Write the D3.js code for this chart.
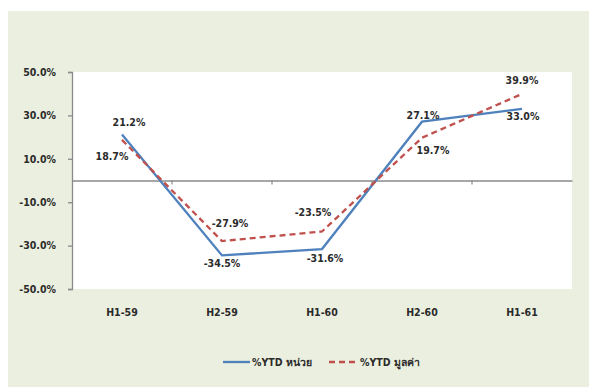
<!DOCTYPE html>
<html><head><meta charset="utf-8">
<script src="https://cdn.jsdelivr.net/npm/d3@7"></script>
<style>
html,body{margin:0;padding:0;background:#fff;}
svg{display:block;}
text{font-family:"DejaVu Sans",Verdana,sans-serif;}
</style></head>
<body>
<svg id="c" width="589" height="387"></svg>
<script>
const categories = ["H1-59","H2-59","H1-60","H2-60","H1-61"];
const unitsYTD = [21.2, -34.5, -31.6, 27.1, 33.0];   // %YTD หน่วย
const valueYTD = [18.7, -27.9, -23.5, 19.7, 39.9];   // %YTD มูลค่า
const yTicks = [50, 30, 10, -10, -30, -50];
const seriesNames = ["%YTD หน่วย", "%YTD มูลค่า"];

// label offsets (styling only)
const unitsLabelOff = [[7,-12],[0,8],[3,9],[1,-6],[1,7]];
const valueLabelOff = [[-10,16],[8,-18],[-9,-19],[11,13],[0,-14]];

const fmt = d3.formatLocale({decimal:".", thousands:",", grouping:[3], currency:["",""], minus:"-"}).format(".1f");
const pct = d => fmt(d) + "%";
const FONT = "'DejaVu Sans Condensed','DejaVu Sans',sans-serif";

const svg = d3.select("#c");
const W = 589, H = 387;
svg.append("rect").attr("x",0).attr("y",0).attr("width",W).attr("height",H).attr("fill","#ffffff");
svg.append("rect").attr("x",8).attr("y",11).attr("width",W-8).attr("height",H-11).attr("fill","#EBEFDF");

const L = 72, R = 572, T = 72, B = 289;
svg.append("rect").attr("x",L).attr("y",T).attr("width",R-L).attr("height",B-T).attr("fill","#ffffff");

const x = d3.scaleBand().domain(categories).range([L,R]);
const y = d3.scaleLinear().domain([-50,50]).range([B,T]);
const cx = c => x(c) + x.bandwidth()/2;

// y axis
const yAxis = d3.axisLeft(y).tickValues(yTicks).tickSize(4).tickPadding(10).tickFormat(pct);
const gy = svg.append("g").attr("transform",`translate(${L},0)`).call(yAxis);
gy.select(".domain").attr("stroke","#8a8a8a").attr("stroke-width",1.3);
gy.selectAll(".tick line").attr("stroke","#8a8a8a").attr("stroke-width",1.3);
gy.selectAll(".tick text").attr("fill","#2b2b2b").attr("font-size","10.5px").attr("font-weight","bold")
  .attr("dx","-2").style("font-family",FONT);

// zero axis with ticks at band boundaries
const xAxis = d3.axisBottom(x).tickSize(0).tickFormat("");
const gx = svg.append("g").attr("transform",`translate(0,${y(0)})`).call(xAxis);
gx.select(".domain").attr("stroke","#8a8a8a").attr("stroke-width",1.3);
svg.append("g").selectAll("line").data(categories.slice(1)).join("line")
  .attr("x1",d=>x(d)).attr("x2",d=>x(d)).attr("y1",y(0)).attr("y2",y(0)+4)
  .attr("stroke","#8a8a8a").attr("stroke-width",1.2);

// category labels
svg.append("g").selectAll("text").data(categories).join("text")
  .attr("x",d=>cx(d)).attr("y",316).attr("text-anchor","middle")
  .attr("font-size","10.5px").attr("font-weight","bold").attr("fill","#2b2b2b")
  .style("font-family",FONT)
  .text(d=>d);

const line = d3.line().x((d,i)=>cx(categories[i])).y(d=>y(d));

svg.append("path").datum(unitsYTD).attr("d",line).attr("fill","none")
  .attr("stroke","#4F81BD").attr("stroke-width",2.3).attr("stroke-linejoin","miter");
svg.append("path").datum(valueYTD).attr("d",line).attr("fill","none")
  .attr("stroke","#C0504D").attr("stroke-width",2.3).attr("stroke-dasharray","6,4");

function labels(vals, offs){
  svg.append("g").selectAll("text").data(vals).join("text")
    .attr("x",(d,i)=>cx(categories[i])+offs[i][0])
    .attr("y",(d,i)=>y(d)+offs[i][1])
    .attr("dy","0.35em").attr("text-anchor","middle")
    .attr("font-size","10.5px").attr("font-weight","bold").attr("fill","#2b2b2b")
    .style("font-family",FONT)
    .text(pct);
}
labels(unitsYTD, unitsLabelOff);
labels(valueYTD, valueLabelOff);

// legend
const lg = svg.append("g").attr("transform","translate(0,362)");
lg.append("line").attr("x1",223).attr("x2",250).attr("y1",0).attr("y2",0)
  .attr("stroke","#4F81BD").attr("stroke-width",2.3);
lg.append("text").attr("x",252).attr("y",0).attr("dy","0.35em")
  .attr("font-size","10.5px").attr("font-weight","bold").attr("fill","#2b2b2b")
  .style("font-family",FONT)
  .text(seriesNames[0]);
lg.append("line").attr("x1",329).attr("x2",357).attr("y1",0).attr("y2",0)
  .attr("stroke","#C0504D").attr("stroke-width",2.3).attr("stroke-dasharray","6,4");
lg.append("text").attr("x",360).attr("y",0).attr("dy","0.35em")
  .attr("font-size","10.5px").attr("font-weight","bold").attr("fill","#2b2b2b")
  .style("font-family",FONT)
  .text(seriesNames[1]);
</script>
</body></html>
